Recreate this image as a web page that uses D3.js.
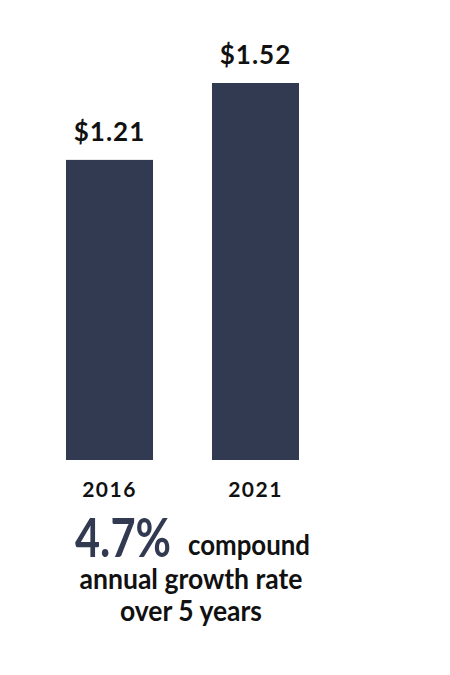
<!DOCTYPE html>
<html>
<head>
<meta charset="utf-8">
<script src="https://cdn.jsdelivr.net/npm/d3@7"></script>
<style>
  body { margin: 0; background: #fff; }
  text { font-family: "Lato", "Open Sans", sans-serif; }
</style>
</head>
<body>
<div class="chart"></div>
<script>
const years = ["2016", "2021"];
const values = [1.21, 1.52];
const valueLabels = ["$1.21", "$1.52"];
const growthRate = "4.7%";
const growthLines = ["compound", "annual growth rate", "over 5 years"];

const width = 450, height = 675;
const barColor = "#323a52";

const svg = d3.select(".chart").append("svg")
    .attr("width", width)
    .attr("height", height);

// scales
const x = d3.scaleBand()
    .domain(years)
    .range([66, 299])
    .paddingInner(0.404)
    .paddingOuter(0);
const y = d3.scaleLinear()
    .domain([0, 1.52])
    .range([460, 83]);

// bars
svg.selectAll(".bar")
    .data(values)
    .enter().append("rect")
    .attr("class", "bar")
    .attr("x", (d, i) => x(years[i]))
    .attr("y", d => y(d))
    .attr("width", x.bandwidth())
    .attr("height", d => y(0) - y(d))
    .style("fill", barColor);

// value labels
svg.selectAll(".val")
    .data(values)
    .enter().append("text")
    .attr("class", "val")
    .attr("x", (d, i) => x(years[i]) + x.bandwidth() / 2)
    .attr("y", d => y(d) - 19)
    .attr("text-anchor", "middle")
    .style("font-size", "26px")
    .style("font-weight", 700)
    .style("letter-spacing", "1px")
    .style("fill", "#111")
    .text((d, i) => valueLabels[i]);

// x axis labels
svg.selectAll(".yr")
    .data(years)
    .enter().append("text")
    .attr("class", "yr")
    .attr("x", d => x(d) + x.bandwidth() / 2)
    .attr("y", 497)
    .attr("text-anchor", "middle")
    .style("font-size", "21px")
    .style("font-weight", 700)
    .style("letter-spacing", "1.5px")
    .style("fill", "#111")
    .text(d => d);

// growth note
svg.append("text")
    .attr("x", 75)
    .attr("y", 557)
    .style("font-size", "54px")
    .style("font-weight", 700)
    .style("fill", barColor)
    .attr("textLength", 96)
    .attr("lengthAdjust", "spacingAndGlyphs")
    .text(growthRate);

svg.append("text")
    .attr("x", 188)
    .attr("y", 555)
    .style("font-size", "29px")
    .style("font-weight", 700)
    .style("fill", "#111")
    .attr("textLength", 122)
    .attr("lengthAdjust", "spacingAndGlyphs")
    .text(growthLines[0]);

svg.append("text")
    .attr("x", 191)
    .attr("y", 589)
    .attr("text-anchor", "middle")
    .style("font-size", "29px")
    .style("font-weight", 700)
    .style("fill", "#111")
    .attr("textLength", 223)
    .attr("lengthAdjust", "spacingAndGlyphs")
    .text(growthLines[1]);

svg.append("text")
    .attr("x", 191)
    .attr("y", 621)
    .attr("text-anchor", "middle")
    .style("font-size", "29px")
    .style("font-weight", 700)
    .style("fill", "#111")
    .attr("textLength", 142)
    .attr("lengthAdjust", "spacingAndGlyphs")
    .text(growthLines[2]);
</script>
</body>
</html>
